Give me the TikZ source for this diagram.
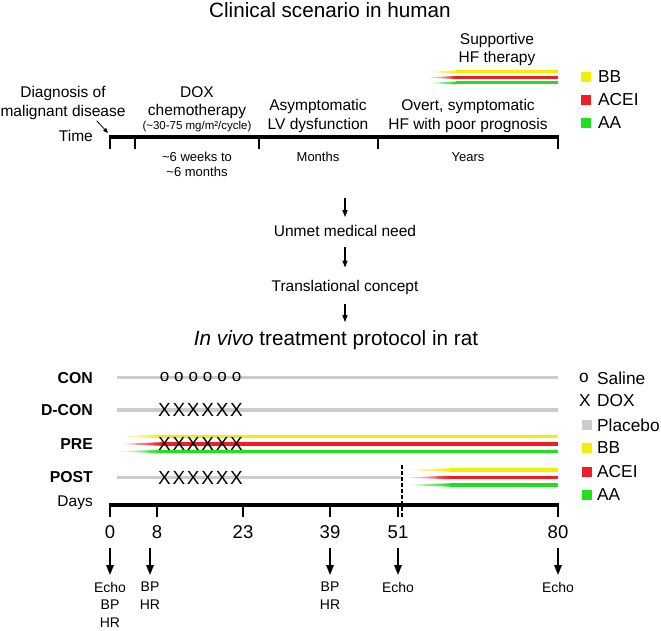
\documentclass[tikz,border=0pt]{standalone}
\usepackage{fontspec}
\setmainfont{Liberation Sans}
\usetikzlibrary{arrows.meta, positioning}
\definecolor{bbyellow}{RGB}{240,240,0}
\definecolor{acered}{RGB}{238,30,36}
\definecolor{aagreen}{RGB}{30,225,30}
\definecolor{pbgray}{RGB}{204,204,204}

\begin{document}
\begin{tikzpicture}[x=1pt, y=-1pt,
  ttl/.style={font=\fontsize{20.7}{24}\selectfont, inner sep=0pt},
  lbl/.style={font=\fontsize{15.5}{18.5}\selectfont, inner sep=0pt, align=center},
  dosetxt/.style={font=\fontsize{11.5}{13}\selectfont, inner sep=0pt},
  dur/.style={font=\fontsize{13}{15}\selectfont, inner sep=0pt, align=center},
  grp/.style={font=\bfseries\fontsize{15.8}{18}\selectfont, inner sep=0pt, anchor=east},
  leg/.style={font=\fontsize{17.3}{20}\selectfont, inner sep=0pt, anchor=west},
  legmark/.style={font=\fontsize{17.3}{20}\selectfont, inner sep=0pt},
  dosemark/.style={font=\fontsize{17}{20}\selectfont, inner sep=0pt},
  xmark/.style={font=\fontsize{19}{22}\selectfont, inner sep=0pt},
  day/.style={font=\fontsize{18.5}{21}\selectfont, inner sep=0pt},
  meas/.style={font=\fontsize{14}{17.5}\selectfont, inner sep=0pt, align=center, anchor=north},
  tlaxis/.style={line width=4pt},
  tickln/.style={line width=2pt},
  placebo/.style={line width=3.5pt, draw=pbgray},
  arr/.style={line width=1.7pt, -{Triangle[length=10pt, width=7.5pt]}},
  midarr/.style={line width=1.2pt, -{Triangle[length=7pt, width=5pt]}},
  thinarr/.style={line width=0.8pt, -{Triangle[length=5pt, width=4pt]}},
]
\useasboundingbox (0,0) rectangle (661,631);

% clinical scenario in human
\node[ttl] (title1) at (330,10.5) {Clinical scenario in human};
\node[lbl, anchor=north] (support) at (497,33) {Supportive\\HF therapy};
\foreach \c/\yy in {bbyellow/72, acered/77.5, aagreen/83}{
  \shade[left color=white, right color=\c] (426,\yy) -- (456,\yy-1.5) -- (456,\yy+1.5) -- cycle;
  \fill[\c] (456,\yy-1.5) rectangle (558,\yy+1.5);
}
\foreach \c/\t/\yy in {bbyellow/BB/77, acered/ACEI/100, aagreen/AA/123}{
  \fill[\c] (581,\yy-5) rectangle (591,\yy+5);
  \node[leg] (top-\t) at (598,\yy) {\t};
}

\draw[tlaxis] (109,137) -- (559,137);
\foreach \x in {110,135,259,378,558}
  \draw[tickln] (\x,136) -- (\x,149);
\node[lbl, anchor=east] (time) at (93,136) {Time};
\node[lbl, anchor=north] (diag) at (63,86.4) {Diagnosis of\\malignant disease};
\coordinate (onset) at (108,133);
\draw[thinarr] ([xshift=-29pt,yshift=-1pt]diag.south east) -- (onset);

\node[lbl, anchor=north] (dox) at (197,86.4) {DOX\\chemotherapy};
\node[dosetxt] (dose) at (197,127) {(\textasciitilde 30-75 mg/m²/cycle)};
\node[lbl, anchor=north] (lvd) at (318,99.4) {Asymptomatic\\LV dysfunction};
\node[lbl, anchor=north] (hf) at (468,99.4) {Overt, symptomatic\\HF with poor prognosis};

\node[dur, anchor=north] (dur-dox) at (197,152.3) {\textasciitilde 6 weeks to\\\textasciitilde 6 months};
\node[dur] (dur-lvd) at (318,157) {Months};
\node[dur] (dur-hf) at (468,157) {Years};

% translation
\coordinate (c-top) at (345,198);
\node[lbl] (unmet) at (345,231) {Unmet medical need};
\node[lbl] (transl) at (345,287) {Translational concept};
\node[ttl] (title2) at (336,340) {\textit{In vivo} treatment protocol in rat};
\coordinate (t2-top) at (transl.south |- title2.north);
\draw[midarr] (c-top) -- ([yshift=8pt]unmet.north);
\draw[midarr] ([yshift=-10pt]unmet.south) -- ([yshift=12pt]transl.north);
\draw[midarr] ([yshift=-10pt]transl.south) -- ([yshift=8pt]t2-top);

% treatment groups
\node[grp] (con) at (93,378) {CON};
\node[grp] (dcon) at (93,410) {D-CON};
\node[grp] (pre) at (93,444) {PRE};
\node[grp] (post) at (93,477) {POST};

\draw[placebo] (117,377.5) -- (558,377.5);
\draw[placebo] (117,410) -- (558,410);
\draw[placebo] (117,477.5) -- (402,477.5);
\foreach \c/\yy in {bbyellow/436.5, acered/444, aagreen/451.5}{
  \shade[left color=white, right color=\c] (117,\yy) -- (160,\yy-1.75) -- (160,\yy+1.75) -- cycle;
  \fill[\c] (160,\yy-1.75) rectangle (558,\yy+1.75);
}
\foreach \c/\yy in {bbyellow/470, acered/477.5, aagreen/485}{
  \shade[left color=white, right color=\c] (403,\yy) -- (450,\yy-1.75) -- (450,\yy+1.75) -- cycle;
  \fill[\c] (450,\yy-1.75) rectangle (558,\yy+1.75);
}
\draw[line width=1.4pt, dash pattern=on 4pt off 2pt] (402,465) -- (402,517);

\foreach \i in {0,...,5}
  \node[dosemark] (sal-\i) at (164.5+14.4*\i,377.5) {o};
\foreach \r/\yy in {dcon/410, pre/444, post/477.5}
  \foreach \i in {0,...,5}
    \node[xmark] (\r-x\i) at (164.5+14.4*\i,\yy) {X};

% legend
\node[legmark] (mk-sal) at (584,378) {o};
\node[leg] (leg-sal) at (597,378) {Saline};
\node[legmark] (mk-dox) at (585,401) {X};
\node[leg] (leg-dox) at (597,401) {DOX};
\foreach \c/\t/\yy in {pbgray/Placebo/425, bbyellow/BB/448, acered/ACEI/472, aagreen/AA/495}{
  \fill[\c] (582,\yy-5) rectangle (592,\yy+5);
  \node[leg] (leg-\t) at (597,\yy) {\t};
}

% days axis
\node[lbl, anchor=east] (days) at (93,503) {Days};
\draw[tlaxis] (109,505) -- (559,505);
\foreach \d/\x in {0/110, 8/157, 23/243, 39/330, 51/398, 80/558}{
  \draw[tickln] (\x,504) -- (\x,517);
  \node[day] (day\d) at (\x,532) {\d};
}

% measurements
\node[meas] (m0) at (110,582) {Echo\\BP\\HR};
\node[meas] (m8) at (150,582) {BP\\HR};
\node[meas] (m39) at (330,582) {BP\\HR};
\node[meas] (m51) at (398,582) {Echo};
\node[meas] (m80) at (558,582) {Echo};
\foreach \d in {0,8,39,51,80}{
  \path (day\d.south -| m\d.north) coordinate (a\d);
  \draw[arr] ([yshift=-9pt]a\d) -- ([yshift=7pt]m\d.north);
}
\end{tikzpicture}
\end{document}
